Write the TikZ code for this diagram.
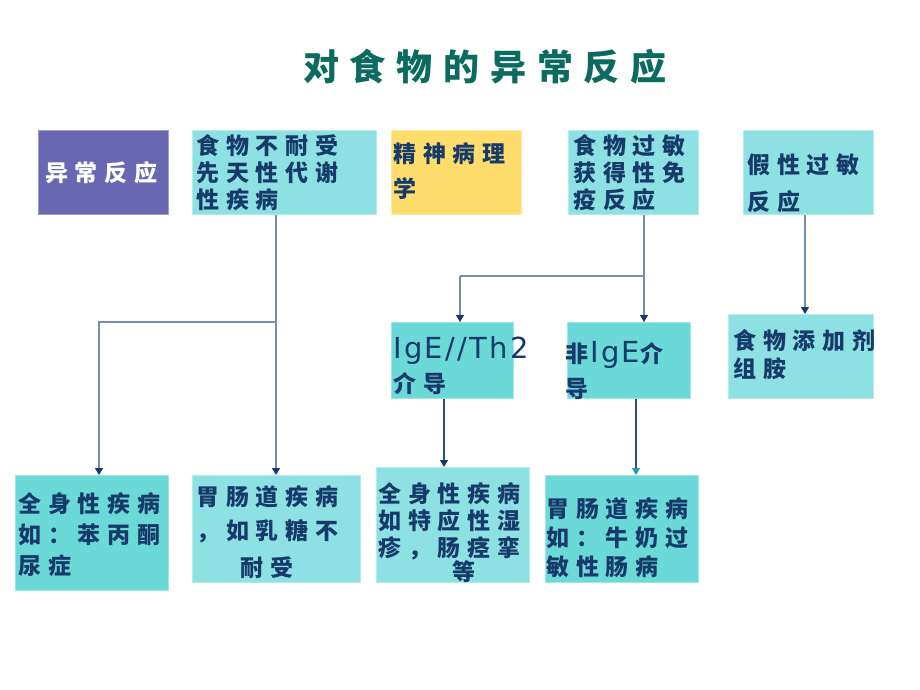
\documentclass[tikz,border=0pt]{standalone}
\usepackage{fontspec}
\usepackage{tikz}
\usetikzlibrary{arrows.meta, positioning, calc}
\newfontfamily\cjk[LetterSpace=30]{Noto Sans CJK SC}
\newfontfamily\latin[LetterSpace=8]{DejaVu Sans}
\newcommand{\lat}[1]{{\latin\mdseries\fontsize{29}{30}\selectfont #1}}
\definecolor{navy}{HTML}{163A6A}
\definecolor{titlegreen}{HTML}{0B6B5E}
\definecolor{cyanL}{HTML}{8DE1E3}
\definecolor{cyanD}{HTML}{6CD9D9}
\definecolor{purpleBox}{HTML}{6A67B2}
\definecolor{yellowBox}{HTML}{FFDD6D}
\definecolor{linkgray}{HTML}{7690AC}
\definecolor{linknavy}{HTML}{2F4F80}
\definecolor{headteal}{HTML}{2A9AA8}
\tikzset{
    box/.style={rectangle, anchor=north west, inner sep=0pt, draw=white!35!#1, line width=0.8pt, fill=#1},
    txt/.style={inner sep=0pt, anchor=north west, align=left, text=navy,
        font=\cjk\bfseries\fontsize{23}{#1}\selectfont},
    txt/.default=30,
    link/.style={draw=#1, line width=1.2pt},
    link/.default=linkgray,
    tohead/.style={-{Triangle[width=8pt,length=7pt,color=#1]}},
    tohead/.default=navy,
}

\begin{document}
\begin{tikzpicture}[x=1pt, y=-1pt]
    \useasboundingbox (0,0) rectangle (920,690);

    \node[text=titlegreen, font=\cjk\bfseries\fontsize{36}{40}\selectfont] (title) at (485,67) {对食物的异常反应};

    % top row
    \node[box=purpleBox, minimum width=130, minimum height=84] (abn) at (38,130) {};
    \node[box=cyanL, minimum width=184, minimum height=84] (intol) at (192,130) {};
    \node[box=yellowBox, minimum width=130, minimum height=84] (psych) at (391,130) {};
    \node[box=cyanL, minimum width=130, minimum height=84] (allergy) at (568,130) {};
    \node[box=cyanL, minimum width=130, minimum height=84] (pseudo) at (743,130) {};

    % middle row
    \node[box=cyanD, minimum width=122, minimum height=76] (ige) at (391,322) {};
    \node[box=cyanD, minimum width=123, minimum height=76] (nonige) at (567,322) {};
    \node[box=cyanL, minimum width=145, minimum height=84] (additive) at (728,314) {};

    % bottom row
    \node[box=cyanD, minimum width=153, minimum height=115] (sys1) at (15,475) {};
    \node[box=cyanL, minimum width=168, minimum height=107] (gi1) at (192,475) {};
    \node[box=cyanL, minimum width=153, minimum height=115] (sys2) at (376,467) {};
    \node[box=cyanD, minimum width=153, minimum height=107] (gi2) at (545,475) {};

    % texts
    \node[txt, text=white, anchor=center] (abnT) at ([xshift=-2pt]abn.center) {异常反应};
    \node[txt=27] (intolT) at ([shift={(4,4)}]intol.north west) {食物不耐受\\先天性代谢\\性疾病};
    \node[txt=35] (psychT) at ([shift={(2,12)}]psych.north west) {精神病理\\学};
    \node[txt=27] (allergyT) at ([shift={(5,4)}]allergy.north west) {食物过敏\\获得性免\\疫反应};
    \node[txt=37] (pseudoT) at ([shift={(4,24)}]pseudo.north west) {假性过敏\\反应};
    \node[txt=34] (igeT) at ([shift={(2,14)}]ige.north west) {\lat{IgE//Th2}\\介导};
    \node[txt=35] (nonigeT) at ([shift={(-2,19)}]nonige.north west) {非\hspace{2pt}\lat{IgE}介\\导};
    \node[txt=28] (additiveT) at ([shift={(5,15)}]additive.north west) {食物添加剂\\组胺};
    \node[txt=31] (sys1T) at ([shift={(3,17)}]sys1.north west) {全身性疾病\\如：苯丙酮\\尿症};
    \node[txt=34] (gi1T) at ([shift={(4,10)}]gi1.north west) {胃肠道疾病\\，如乳糖不\\[3pt]\hspace*{44pt}耐受};
    \node[txt=27] (sys2T) at ([shift={(2,15)}]sys2.north west) {全身性疾病\\如特应性湿\\疹，肠痉挛\\[-3pt]\hspace*{74pt}等};
    \node[txt=29] (gi2T) at ([shift={(1,22)}]gi2.north west) {胃肠道疾病\\如：牛奶过\\敏性肠病};

    % connectors
    \coordinate (j1) at (276,322);
    \coordinate (j1l) at (99,322);
    \coordinate (j2) at (644,276);
    \coordinate (j2l) at (460,276);
    \coordinate (k1) at (444,0);
    \coordinate (k2) at (636,0);
    \coordinate (k3) at (805,0);

    \draw[link] (intol.south -| j1) -- (j1);
    \draw[link, tohead] (j1) -- (gi1.north -| j1);
    \draw[link, tohead] (j1) -- (j1l) -- (sys1.north -| j1l);

    \draw[link] (allergy.south -| j2) -- (j2) -- (j2l);
    \draw[link, tohead] (j2l) -- (ige.north -| j2l);
    \draw[link, tohead] (j2) -- (nonige.north -| j2);

    \draw[link=linknavy, tohead] (ige.south -| k1) -- (sys2.north -| k1);
    \draw[link=linknavy, tohead=headteal] (nonige.south -| k2) -- (gi2.north -| k2);
    \draw[link, tohead] (pseudo.south -| k3) -- (additive.north -| k3);
\end{tikzpicture}
\end{document}
